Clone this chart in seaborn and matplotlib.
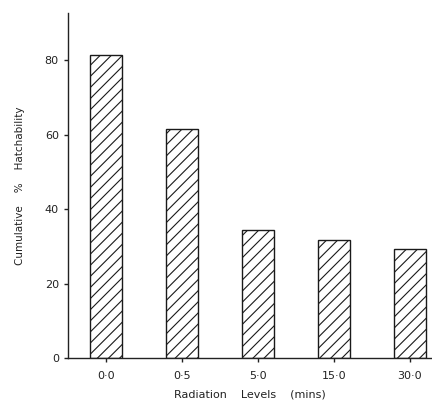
import matplotlib
matplotlib.use("Agg")
import matplotlib.pyplot as plt
import seaborn as sns
import pandas as pd

# Data
levels = ["0·0", "0·5", "5·0", "15·0", "30·0"]
hatchability = [81.4, 61.5, 34.4, 31.9, 29.4]

df = pd.DataFrame({"level": levels, "hatch": hatchability})

sns.set_style("ticks")
plt.rcParams['font.family'] = ['DejaVu Sans']
plt.rcParams['hatch.linewidth'] = 0.8

fig = plt.figure(figsize=(4.32, 4.12), dpi=100)
ax = fig.add_axes([0.157, 0.13, 0.843, 0.838])

sns.barplot(data=df, x="level", y="hatch", color="white", edgecolor="black",
            linewidth=1.0, width=0.42, ax=ax)
for bar in ax.patches:
    bar.set_hatch("///")
    bar.set_facecolor("white")
    bar.set_edgecolor("#1a1a1a")

ax.set_xlim(-0.5, 4.29)
ax.set_ylim(0, 92.6)
ax.set_yticks([0, 20, 40, 60, 80])
ax.set_yticklabels(["0", "20", "40", "60", "80"])
ax.tick_params(axis="both", labelsize=8, direction="out", length=3, width=1, colors="#222222")
ax.tick_params(axis="x", pad=6)
sns.despine(ax=ax, top=True, right=True)
for s in ["left", "bottom"]:
    ax.spines[s].set_linewidth(1.0)
    ax.spines[s].set_color("#222222")

ax.set_xlabel("Radiation    Levels    (mins)", fontsize=8, labelpad=6, color="#222222")
ax.set_ylabel("Cumulative    %    Hatchability", fontsize=7.5, labelpad=14, color="#222222")

fig.savefig("out.png", dpi=100)
